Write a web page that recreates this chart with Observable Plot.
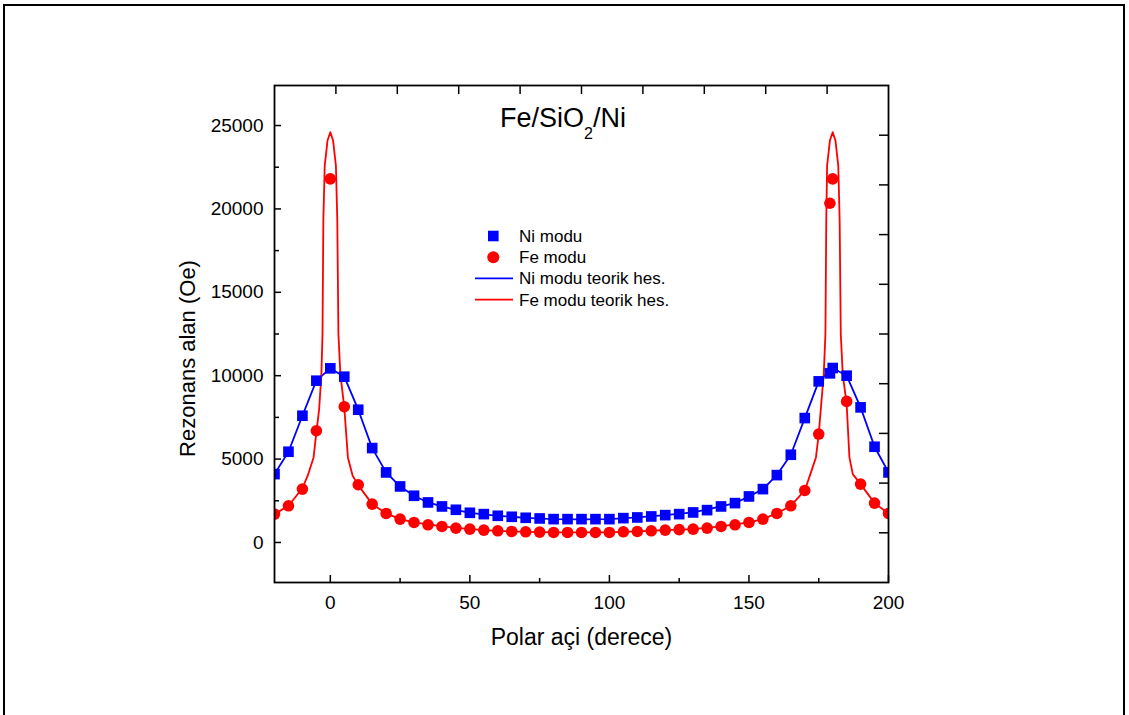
<!DOCTYPE html>
<html>
<head>
<meta charset="utf-8">
<script src="https://cdn.jsdelivr.net/npm/d3@7"></script>
<script src="https://cdn.jsdelivr.net/npm/@observablehq/plot@0.6"></script>
<style>
  html, body { margin: 0; padding: 0; background: #fff; overflow: hidden; }
  #page { position: relative; width: 1129px; height: 715px; }
  #border { position: absolute; left: 3px; top: 4px; width: 1122px; height: 760px; border: 2px solid #000; box-sizing: border-box; }
  #chart { position: absolute; left: 0; top: 0; }
</style>
</head>
<body>
<div id="page"><div id="border"></div><div id="chart"></div></div>
<script>
// ---- data ----
const angle = [-20,-15,-10,-5,0,5,10,15,20,25,30,35,40,45,50,55,60,65,70,75,80,85,90,95,100,105,110,115,120,125,130,135,140,145,150,155,160,165,170,175,179,180,185,190,195,200];
const niModu = [4100,5440,7600,9700,10440,9940,7960,5660,4200,3360,2800,2400,2160,1960,1780,1700,1600,1540,1480,1440,1400,1400,1400,1400,1400,1460,1500,1560,1640,1700,1800,1940,2160,2360,2760,3200,4040,5260,7460,9660,10140,10460,10000,8100,5740,4200];
const feModu = [1700,2200,3200,6700,21800,8140,3460,2300,1740,1400,1200,1060,960,860,800,740,700,660,640,620,600,600,600,600,600,640,660,700,740,770,800,860,960,1060,1200,1400,1740,2200,3120,6500,20340,21800,8460,3500,2360,1740];

const niTheoryAngle = [-20,-15,-10,-5,0,5,10,15,20,25,30,35,40,45,50,60,70,80,90,100,110,120,130,140,145,150,155,160,165,170,175,180,185,190,195,200];
const niTheory = [4100,5440,7600,9700,10440,9940,7960,5660,4200,3360,2800,2400,2160,1960,1780,1600,1480,1400,1390,1400,1500,1640,1800,2160,2360,2760,3200,4040,5260,7460,9660,10460,10000,8100,5740,4200];

const feTheoryAngle = [-20,-15,-10,-8,-6,-5,-4,-3.2,-2.8,-2.5,-2,-1,0,1,2,2.5,2.9,3.6,5,6.3,8,10,15,20,25,30,40,50,60,70,80,90,100,110,120,130,140,150,155,160,165,170,172,174,175,176.8,177.4,177.7,178,179,180,181,182,182.5,182.9,183.6,185,186,187.2,190,195,200];
const feTheory = [1700,2200,3250,4050,5100,6600,8000,10100,12500,19300,22600,24100,24600,24100,22600,19300,12500,10100,8100,5100,4000,3440,2300,1740,1400,1200,960,800,700,640,610,600,610,660,740,800,960,1200,1400,1740,2200,3120,4100,5100,6500,10100,12500,19300,22600,24100,24600,24100,22600,19300,12500,10100,8300,5100,4100,3500,2360,1740];

const xDomain = [-20, 200];
const yDomain = [-2400, 27400];
const xTicks = [0, 50, 100, 150, 200];
const xMinorTicks = [25, 75, 125, 175];
const yTicks = [0, 5000, 10000, 15000, 20000, 25000];
const yMinorTicks = [2500, 7500, 12500, 17500, 22500];

const titleMain = "Fe/SiO";
const titleSub = "2";
const titleEnd = "/Ni";
const xLabel = "Polar açi (derece)";
const yLabel = "Rezonans alan (Oe)";
const legendItems = [
  {label: "Ni modu", kind: "square", color: "#0000ff"},
  {label: "Fe modu", kind: "circle", color: "#ff0000"},
  {label: "Ni modu teorik hes.", kind: "line", color: "#0000ff"},
  {label: "Fe modu teorik hes.", kind: "line", color: "#ff0000"}
];

// ---- build tables ----
const rows = angle.map((a, i) => ({angle: a, ni: niModu[i], fe: feModu[i]}));
const niRows = niTheoryAngle.map((a, i) => ({angle: a, value: niTheory[i]}));
const feRows = feTheoryAngle.map((a, i) => ({angle: a, value: feTheory[i]}));

const W = 1129, H = 715, mL = 274, mR = 241, mT = 85, mB = 133;
const pw = W - mL - mR, ph = H - mT - mB;
const topTicks = d3.range(1, 10).map(k => xDomain[0] + k * (xDomain[1] - xDomain[0]) / 10);
const rightTicks = d3.range(1, 10).map(k => yDomain[0] + k * (yDomain[1] - yDomain[0]) / 10);
const font = "'Liberation Sans', Arial, Helvetica, sans-serif";

const plot = Plot.plot({
  width: W, height: H,
  marginLeft: mL, marginRight: mR, marginTop: mT, marginBottom: mB,
  style: {fontFamily: font, color: "#000", background: "transparent", overflow: "visible"},
  x: {domain: xDomain},
  y: {domain: yDomain},
  marks: [
    Plot.line(niRows, {x: "angle", y: "value", stroke: "#0000ff", strokeWidth: 1.8, clip: true}),
    Plot.line(feRows, {x: "angle", y: "value", stroke: "#ff0000", strokeWidth: 1.8, clip: true}),
    Plot.dot(rows, {x: "angle", y: "ni", symbol: "square", r: 6, fill: "#0000ff", stroke: "none", clip: true}),
    Plot.dot(rows, {x: "angle", y: "fe", symbol: "circle", r: 5.8, fill: "#ff0000", stroke: "none", clip: true}),
    Plot.frame({stroke: "#000", strokeWidth: 1.8}),
    // inward ticks
    Plot.tickX(xTicks, {x: d => d, insetTop: ph - 7, stroke: "#000", strokeWidth: 1.5}),
    Plot.tickX(xMinorTicks, {x: d => d, insetTop: ph - 4, stroke: "#000", strokeWidth: 1.5}),
    Plot.tickX(topTicks, {x: d => d, insetBottom: ph - 9, stroke: "#000", strokeWidth: 1.5}),
    Plot.tickY(yTicks, {y: d => d, insetRight: pw - 7, stroke: "#000", strokeWidth: 1.5}),
    Plot.tickY(yMinorTicks, {y: d => d, insetRight: pw - 5, stroke: "#000", strokeWidth: 1.5}),
    Plot.tickY(rightTicks, {y: d => d, insetLeft: pw - 9, stroke: "#000", strokeWidth: 1.5}),
    Plot.axisX({ticks: xTicks, tickSize: 0, tickPadding: 13, fontSize: 19, label: null, tickFormat: d => String(d)}),
    Plot.axisY({ticks: yTicks, tickSize: 0, tickPadding: 11, fontSize: 19, label: null, tickFormat: d => String(d)}),
    Plot.text([xLabel], {frameAnchor: "bottom", lineAnchor: "middle", textAnchor: "middle", dy: 55, fontSize: 23, fill: "#000"}),
    Plot.text([yLabel], {frameAnchor: "left", lineAnchor: "middle", textAnchor: "middle", dx: -87, dy: 24.5, rotate: -90, fontSize: 22, fill: "#000"})
  ]
});

const svg = d3.select(plot);
// title with subscript
const t = svg.append("text")
  .attr("x", 563).attr("y", 127)
  .attr("text-anchor", "middle")
  .attr("font-family", font)
  .attr("font-size", 27)
  .attr("fill", "#000");
t.append("tspan").text(titleMain);
t.append("tspan").attr("font-size", 16).attr("dy", 11.5).text(titleSub);
t.append("tspan").attr("font-size", 27).attr("dy", -11.5).text(titleEnd);

// legend
const lg = svg.append("g").attr("transform", "translate(475,236)").attr("font-family", font).attr("text-anchor", "start");
legendItems.forEach((d, i) => {
  const g = lg.append("g").attr("transform", `translate(0,${i * 21.2})`);
  if (d.kind === "square") {
    g.append("rect").attr("x", 13).attr("y", -5.3).attr("width", 10.6).attr("height", 10.6).attr("fill", d.color);
  } else if (d.kind === "circle") {
    g.append("circle").attr("cx", 18.3).attr("cy", 0).attr("r", 6).attr("fill", d.color);
  } else {
    g.append("line").attr("x1", 0).attr("x2", 38).attr("y1", 0).attr("y2", 0).attr("stroke", d.color).attr("stroke-width", 1.8);
  }
  g.append("text").attr("x", 44).attr("y", 0).attr("dy", "0.35em").attr("font-size", 17).attr("text-anchor", "start").attr("fill", "#000").text(d.label);
});

document.getElementById("chart").appendChild(plot);
</script>
</body>
</html>
